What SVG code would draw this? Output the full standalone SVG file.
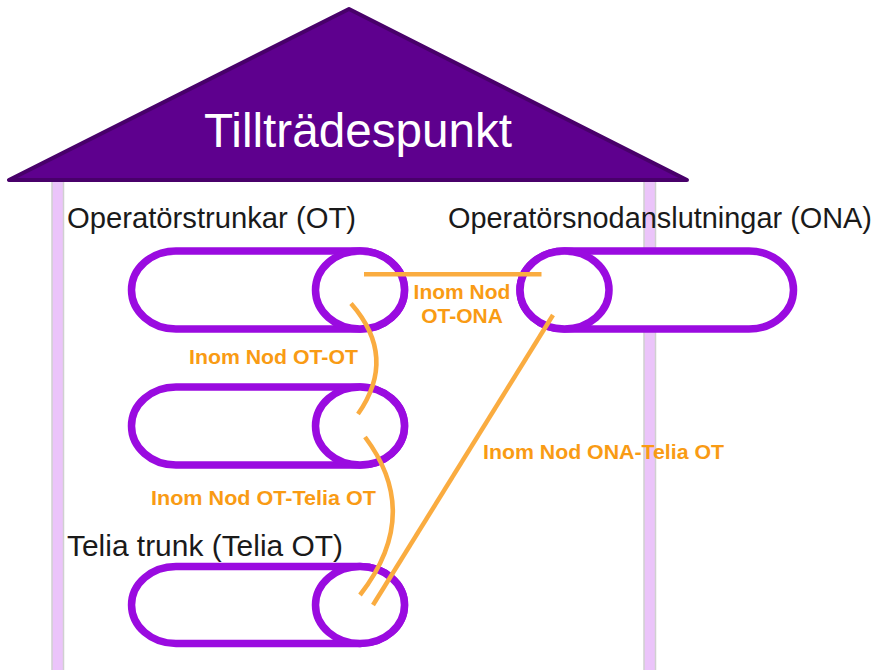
<svg xmlns="http://www.w3.org/2000/svg" width="878" height="670" viewBox="0 0 878 670">
<defs>
<style>
.pillar{fill:#EBC4FA;stroke:#D0D0D0;stroke-width:1.5}
.cyl{fill:#FFFFFF;stroke:#9A0BE0;stroke-width:7.5}
.lbl{font-family:"Liberation Sans",Arial,sans-serif;font-size:29px;fill:#1A1A1A}
.olbl{font-family:"Liberation Sans",Arial,sans-serif;font-size:21px;font-weight:bold;fill:#F99B14}
.con{fill:none;stroke:#FAAC40;stroke-width:4.5}
</style>
</defs>
<rect width="878" height="670" fill="#FFFFFF"/>
<g id="pillars">
<rect class="pillar" x="52" y="180" width="11.5" height="492"/>
<rect class="pillar" x="644" y="180" width="11.5" height="492"/>
</g>
<g id="roof">
<polygon points="349,9 9,180 687,180" fill="#5E008E" stroke="#48006A" stroke-width="4" stroke-linejoin="round"/>
<text x="358" y="147" text-anchor="middle" font-family="'Liberation Sans',Arial,sans-serif" font-size="48" fill="#FFFFFF" textLength="308" lengthAdjust="spacingAndGlyphs">Tillträdespunkt</text>
</g>
<g id="labels">
<text class="lbl" x="67" y="228" textLength="289" lengthAdjust="spacingAndGlyphs">Operatörstrunkar (OT)</text>
<text class="lbl" x="448" y="228" textLength="424" lengthAdjust="spacingAndGlyphs">Operatörsnodanslutningar (ONA)</text>
<text class="lbl" x="67" y="556" textLength="276" lengthAdjust="spacingAndGlyphs">Telia trunk (Telia OT)</text>
</g>
<g id="ot1">
<path class="cyl" d="M176,251 H360 A44.5,39 0 0 1 360,329 H176 A44.5,39 0 0 1 176,251 Z"/>
<ellipse class="cyl" cx="360" cy="290" rx="44.5" ry="39"/>
</g>
<g id="ot2">
<path class="cyl" d="M176,387 H360 A44.5,39 0 0 1 360,465 H176 A44.5,39 0 0 1 176,387 Z"/>
<ellipse class="cyl" cx="360" cy="426" rx="44.5" ry="39"/>
</g>
<g id="teliaot">
<path class="cyl" d="M176,566.5 H360 A44.5,38.5 0 0 1 360,643.5 H176 A44.5,38.5 0 0 1 176,566.5 Z"/>
<ellipse class="cyl" cx="360" cy="605" rx="44.5" ry="38.5"/>
</g>
<g id="ona">
<path class="cyl" d="M749,251 H564.5 A44.5,39 0 0 0 564.5,329 H749 A44.5,39 0 0 0 749,251 Z"/>
<ellipse class="cyl" cx="564.5" cy="290" rx="44.5" ry="39"/>
</g>
<g id="connectors">
<line class="con" x1="364" y1="274.3" x2="541.5" y2="274.3"/>
<path class="con" d="M351,303.5 Q398,357 358,414"/>
<path class="con" d="M365,437 Q423,514 360,595"/>
<line class="con" x1="553" y1="315" x2="373" y2="605"/>
</g>
<g id="connector-labels">
<text class="olbl" x="462" y="299" text-anchor="middle">Inom Nod</text>
<text class="olbl" x="462" y="323" text-anchor="middle">OT-ONA</text>
<text class="olbl" x="189" y="364" textLength="169" lengthAdjust="spacingAndGlyphs">Inom Nod OT-OT</text>
<text class="olbl" x="151" y="505" textLength="225" lengthAdjust="spacingAndGlyphs">Inom Nod OT-Telia OT</text>
<text class="olbl" x="483" y="459" textLength="241" lengthAdjust="spacingAndGlyphs">Inom Nod ONA-Telia OT</text>
</g>
</svg>
